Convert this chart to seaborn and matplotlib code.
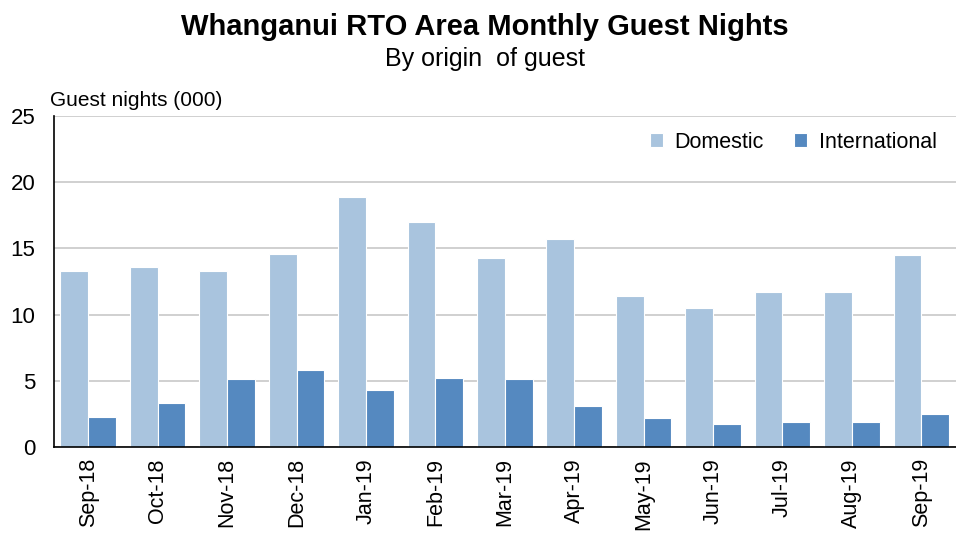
import matplotlib
matplotlib.use('Agg')
import matplotlib.pyplot as plt
import pandas as pd
import seaborn as sns

months = ['Sep-18', 'Oct-18', 'Nov-18', 'Dec-18', 'Jan-19', 'Feb-19', 'Mar-19',
          'Apr-19', 'May-19', 'Jun-19', 'Jul-19', 'Aug-19', 'Sep-19']
domestic = [13.3, 13.6, 13.3, 14.6, 18.9, 17.0, 14.3, 15.7, 11.4, 10.5, 11.7, 11.7, 14.5]
international = [2.3, 3.3, 5.1, 5.8, 4.3, 5.2, 5.1, 3.1, 2.2, 1.7, 1.9, 1.9, 2.5]
series = ['Domestic', 'International']
colors = ['#a9c4de', '#5589c0']

df = pd.DataFrame({'month': months * 2,
                   'origin': [series[0]] * len(months) + [series[1]] * len(months),
                   'nights': domestic + international})

sns.set_theme(style='white')
plt.rcParams['font.family'] = ['Liberation Sans', 'DejaVu Sans']
plt.rcParams['text.color'] = 'black'
plt.rcParams['xtick.color'] = 'black'
plt.rcParams['ytick.color'] = 'black'

fig = plt.figure(figsize=(9.56, 5.36), dpi=100)
ax = fig.add_axes([0.056, 0.166, 0.944, 0.618])

sns.barplot(data=df, x='month', y='nights', hue='origin', order=months,
            hue_order=series, palette=colors, width=0.8, saturation=1,
            edgecolor='white', linewidth=0.8, ax=ax)

ax.set_ylim(0, 25)
ax.set_xlim(-0.5, len(months) - 0.5)
ax.set_yticks(range(0, 26, 5))
ax.yaxis.grid(True, color='#c8c8c8', linewidth=1.2)
ax.set_axisbelow(True)
for side in ['top', 'right']:
    ax.spines[side].set_visible(False)
ax.spines['left'].set_color('black')
ax.spines['bottom'].set_color('black')
ax.spines['left'].set_linewidth(1.2)
ax.spines['bottom'].set_linewidth(1.2)
ax.tick_params(axis='y', labelsize=16, length=0, pad=13)
ax.tick_params(axis='x', labelsize=15.5, length=0, pad=8, rotation=90)
ax.set_xlabel('')
ax.set_ylabel('')

ax.legend(loc='upper right', frameon=False, ncol=2, fontsize=15.5,
          handlelength=0.6, handleheight=0.6, handletextpad=0.55,
          columnspacing=1.4, bbox_to_anchor=(1.0, 1.01))

fig.text(0.052, 0.813, 'Guest nights (000)', fontsize=15, ha='left', va='center')
fig.text(0.507, 0.950, 'Whanganui RTO Area Monthly Guest Nights', fontsize=21,
         fontweight='bold', ha='center', va='center')
fig.text(0.507, 0.890, 'By origin  of guest', fontsize=18, ha='center', va='center')

fig.savefig('out.png', dpi=100)
